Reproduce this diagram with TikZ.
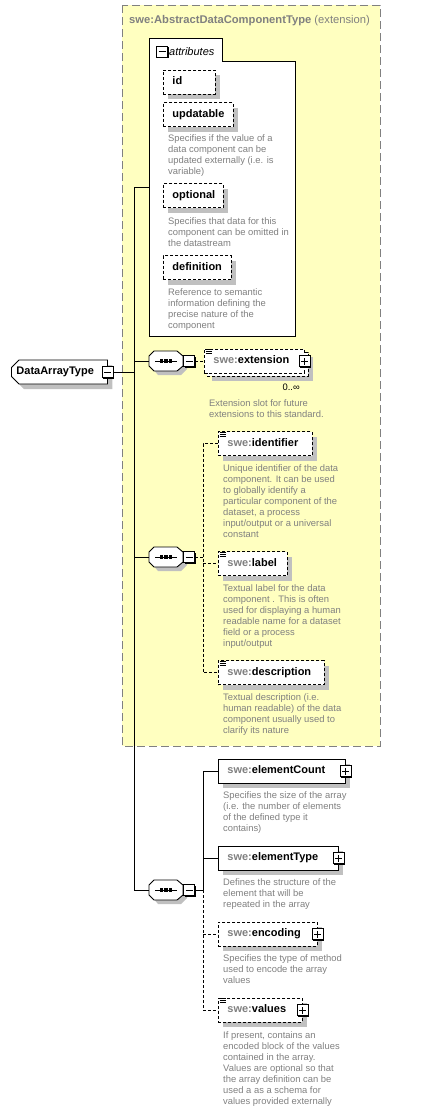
\documentclass[tikz,border=0pt]{standalone}
\usepackage{fontspec}
\setmainfont{Liberation Sans}
\usepackage{xcolor}
\usepackage{tikz}
\usetikzlibrary{positioning,calc,shapes.misc,shadows}

\definecolor{xsdyellow}{RGB}{255,255,192}
\definecolor{xsdgray}{RGB}{128,128,128}
\definecolor{xsdshade}{RGB}{192,192,192}

\newcommand{\swe}[1]{\mbox{\textcolor{xsdgray}{swe:}#1}}
\newcommand{\doctip}[1]{\draw[tipline] ($(#1.north west)+(1.5,1)$) -- ++(6,0) ($(#1.north west)+(1.5,3)$) -- ++(6,0) ($(#1.north west)+(1.5,5)$) -- ++(6,0);}
\newcommand{\seqshape}[1]{%
  \fill[xsdshade,shift={(#1.center)}] (-13,0) -- (-8,-6) -- (15,-6) -- (21,0) -- (21,8) -- (15,14) -- (-8,14) -- (-13,8) -- cycle;
  \draw[line width=0.9pt,fill=white,shift={(#1.center)}] (-17,-5) -- (-12,-10) -- (11,-10) -- (17,-5) -- (17,5) -- (11,10) -- (-12,10) -- (-17,5) -- cycle;
  \draw[line width=0.9pt,shift={(#1.center)}] (-11,0) -- (11,0);
  \foreach \d in {-4.5,0,4.5} \fill[shift={(#1.center)}] (\d-1.6,-1.6) rectangle (\d+1.6,1.6);}

\begin{document}
\begin{tikzpicture}[x=1pt,y=-1pt,
  lift/.style={drop shadow={shadow xshift=5pt,shadow yshift=-5pt,fill=xsdshade,opacity=1}},
  namebox/.style={draw,line width=0.9pt,fill=white,anchor=west,minimum height=24pt,inner xsep=9pt,inner ysep=0pt,text height=8pt,text depth=2.5pt,align=left,font=\fontsize{11}{13}\selectfont\bfseries},
  elem/.style={namebox,lift},
  optelem/.style={elem,dash pattern=on 3pt off 2pt},
  note/.style={anchor=north west,inner sep=0pt,align=left,text=xsdgray,font=\fontsize{9.4}{11}\selectfont},
  link/.style={line width=0.9pt},
  optlink/.style={line width=0.9pt,dash pattern=on 3pt off 2pt},
  tipline/.style={line width=0.6pt},
  togbox/.style={draw,line width=0.9pt,fill=white,minimum size=11pt,inner sep=0pt,drop shadow={shadow xshift=1pt,shadow yshift=-1pt,fill=black,opacity=1}},
  minusbox/.style={togbox,path picture={\draw[line width=0.9pt] ([xshift=-3.5pt]path picture bounding box.center) -- ([xshift=3.5pt]path picture bounding box.center);}},
  plusbox/.style={togbox,path picture={\draw[line width=0.9pt] ([xshift=-3.5pt]path picture bounding box.center) -- ([xshift=3.5pt]path picture bounding box.center) ([yshift=-3.5pt]path picture bounding box.center) -- ([yshift=3.5pt]path picture bounding box.center);}},
  seqbox/.style={minimum width=34pt,minimum height=20pt,inner sep=0pt}]
\useasboundingbox (0,0) rectangle (423,1111);

\draw[xsdgray,fill=xsdyellow,line width=0.9pt,dash pattern=on 8pt off 4pt] (122,5) rectangle (380,746);
\node[anchor=base west,inner sep=0pt,text=xsdgray,font=\fontsize{11.2}{13}\selectfont] (ttl) at (129,23) {\textbf{swe:AbstractDataComponentType} (extension)};

\draw[line width=0.9pt,fill=white] (149,336) -- (149,38) -- (222,38) -- (222,61) -- (295,61) -- (295,336) -- cycle;
\node[minusbox] (am) at (162,51.5) {};
\node[right=1pt of am,inner sep=0pt,font=\fontsize{11}{13}\selectfont\itshape] (atl) {attributes};
\coordinate (attr) at (149,187);
\coordinate (spine) at (134,187);

\node[optelem,text width=34pt] (id) at (163,82) {id};
\node[optelem,text width=52pt] (upd) at (163,114.5) {updatable};
\node[note] (dupd) at (168,134.2) {Specifies if the value of a\\data component can be\\updated externally (i.e. is\\variable)};
\node[optelem,text width=42pt] (opt) at (163,195.5) {optional};
\node[note] (dopt) at (168,217.2) {Specifies that data for this\\component can be omitted in\\the datastream};
\node[optelem,text width=50pt] (def) at (163,267.5) {definition};
\node[note] (ddef) at (168,288.2) {Reference to semantic\\information defining the\\precise nature of the\\component};

\node[elem,chamfered rectangle,chamfered rectangle corners={north west,south west},chamfered rectangle xsep=4pt,inner xsep=1pt,text width=86pt] (dat) at (11,372) {DataArrayType};
\node[minusbox] (dm) at (dat.east) {};

\node[seqbox] (s1) at (166,361) {};
\seqshape{s1}
\node[minusbox,right=0pt of s1] (m1) {};
\node[optelem,text width=83pt] (extb) at (207,364) {};
\node[namebox,dash pattern=on 3pt off 2pt,text width=82pt] (ext) at (204,361) {\swe{extension}};
\node[plusbox] (extp) at (ext.east) {};
\doctip{ext}
\node[anchor=base east,inner sep=0pt,font=\fontsize{9.4}{11}\selectfont] (occ) at (300,390) {0..∞};
\node[note] (dext) at (209,399.2) {Extension slot for future\\extensions to this standard.};

\node[seqbox] (s2) at (166,557) {};
\seqshape{s2}
\node[minusbox,right=0pt of s2] (m2) {};
\coordinate (b2) at (203,557);
\node[optelem,text width=76pt] (ident) at (218,443.5) {\swe{identifier}};
\doctip{ident}
\node[note] (dide) at (223,464.2) {Unique identifier of the data\\component. It can be used\\to globally identify a\\particular component of the\\dataset, a process\\input/output or a universal\\constant};
\node[optelem,text width=51pt] (label) at (218,563.5) {\swe{label}};
\doctip{label}
\node[note] (dlab) at (223,584.2) {Textual label for the data\\component . This is often\\used for displaying a human\\readable name for a dataset\\field or a process\\input/output};
\node[optelem,text width=88pt] (descr) at (218,672.5) {\swe{description}};
\doctip{descr}
\node[note] (ddsc) at (223,693.2) {Textual description (i.e.\\human readable) of the data\\component usually used to\\clarify its nature};

\node[seqbox] (s3) at (166,890) {};
\seqshape{s3}
\node[minusbox,right=0pt of s3] (m3) {};
\coordinate (b3) at (203,890);
\node[elem,text width=109pt] (count) at (218,771) {\swe{elementCount}};
\node[plusbox] (countp) at (count.east) {};
\node[note] (dcnt) at (223,791.2) {Specifies the size of the array\\(i.e. the number of elements\\of the defined type it\\contains)};
\node[elem,text width=102pt] (etype) at (218,858) {\swe{elementType}};
\node[plusbox] (etypep) at (etype.east) {};
\node[note] (dtyp) at (223,878.2) {Defines the structure of the\\element that will be\\repeated in the array};
\node[optelem,text width=81pt] (enc) at (218,934) {\swe{encoding}};
\node[plusbox] (encp) at (enc.east) {};
\node[note] (denc) at (223,954.2) {Specifies the type of method\\used to encode the array\\values};
\node[optelem,text width=66pt] (vals) at (218,1010) {\swe{values}};
\node[plusbox] (valsp) at (vals.east) {};
\doctip{vals}
\node[note] (dval) at (223,1031.2) {If present, contains an\\encoded block of the values\\contained in the array.\\Values are optional so that\\the array definition can be\\used a as a schema for\\values provided externally};

\draw[link] (attr) -- (spine) |- (s3.west);
\draw[link] (dm.east) -- (dm.east -| spine);
\draw[link] (spine |- s1.west) -- (s1.west);
\draw[link] (spine |- s2.west) -- (s2.west);
\draw[optlink] (m1.east) -- (ext.west);
\draw[optlink] (m2.east) -- (b2);
\draw[optlink] (ident.west) -| (b2) |- (descr.west);
\draw[optlink] (b2 |- label.west) -- (label.west);
\draw[link] (m3.east) -- (b3);
\draw[link] (count.west) -| (b3);
\draw[link] (b3 |- etype.west) -- (etype.west);
\draw[optlink] (b3) |- (vals.west);
\draw[optlink] (b3 |- enc.west) -- (enc.west);
\end{tikzpicture}
\end{document}
